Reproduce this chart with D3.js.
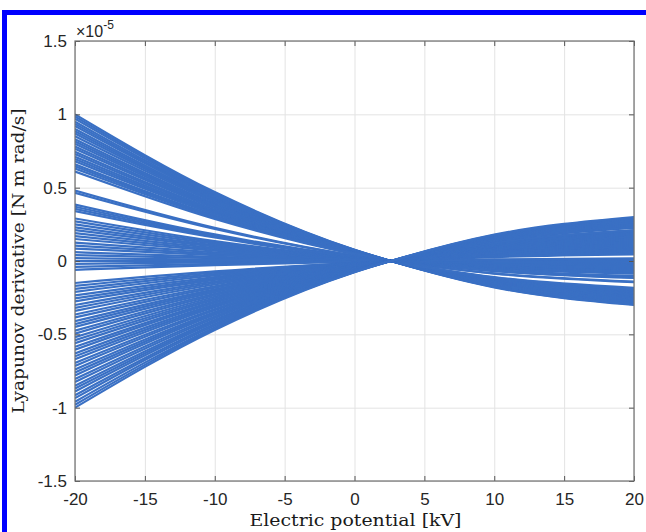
<!DOCTYPE html>
<html>
<head>
<meta charset="utf-8">
<script src="https://cdn.jsdelivr.net/npm/d3@7"></script>
<style>
  body { margin: 0; background: #fff; }
  svg { display: block; }
</style>
</head>
<body>
<div id="chart"></div>
<script>
const xPoints = [-20, -10, 0, 10, 20];
// all curves pass through one common point
const crossX = 2.6, crossValue = 0;

// values (x1e-5) of each curve at the xPoints
const atM20 = [1.00,0.985,0.97,0.95,0.935,0.92,0.90,0.885,0.87,0.85,0.83,0.815,0.80,0.78,0.765,0.745,0.73,0.71,0.695,0.68,0.66,0.645,0.63,0.61,
  0.48,0.465,0.385,0.37,0.355,0.34,0.29,0.27,0.25,0.23,0.21,0.19,0.17,0.15,0.125,0.105,0.085,0.06,0.04,0.02,0,-0.02,-0.04,-0.06,
  -0.15,-0.17,-0.19,-0.21,-0.235,-0.255,-0.275,-0.30,-0.32,-0.34,-0.365,-0.385,-0.41,-0.43,-0.45,-0.475,-0.495,-0.52,-0.54,-0.56,
  -0.585,-0.605,-0.63,-0.65,-0.67,-0.695,-0.715,-0.74,-0.76,-0.78,-0.805,-0.825,-0.85,-0.87,-0.89,-0.915,-0.935,-0.96,-0.98,-1.00];
const atM10 = [.470,.463,.456,.447,.439,.432,.423,.416,.409,.400,.390,.383,.376,.367,.360,.350,.343,.334,.327,.320,.310,.303,.296,.287,
  .226,.219,.181,.174,.167,.160,.136,.127,.118,.108,.099,.089,.080,.071,.059,.049,.040,.028,.019,.009,0,-.009,-.019,-.028,
  -.071,-.080,-.089,-.099,-.110,-.120,-.129,-.141,-.150,-.160,-.172,-.181,-.193,-.202,-.212,-.223,-.233,-.244,-.254,-.263,
  -.275,-.284,-.296,-.306,-.315,-.327,-.336,-.348,-.357,-.367,-.378,-.388,-.400,-.409,-.418,-.430,-.439,-.451,-.461,-.470];
const at0 = [.077,.076,.075,.073,.072,.071,.069,.068,.067,.065,.064,.063,.062,.060,.059,.057,.056,.055,.054,.052,.051,.050,.049,.047,
  .037,.036,.030,.028,.027,.026,.022,.021,.019,.018,.016,.015,.013,.012,.010,.008,.007,.005,.003,.002,0,-.002,-.003,-.005,
  -.012,-.013,-.015,-.016,-.018,-.020,-.021,-.023,-.025,-.026,-.028,-.030,-.032,-.033,-.035,-.037,-.038,-.040,-.042,-.043,
  -.045,-.047,-.049,-.050,-.052,-.054,-.055,-.057,-.059,-.060,-.062,-.064,-.065,-.067,-.069,-.070,-.072,-.074,-.075,-.077];
const at10 = [-.180,-.177,-.175,-.171,-.168,-.166,-.162,-.159,-.157,-.153,-.149,-.147,-.144,-.140,-.138,-.134,-.131,-.128,-.125,-.122,-.119,-.116,-.113,-.110,
  -.086,-.084,-.069,-.067,-.064,-.061,-.052,-.049,-.045,-.041,-.038,-.034,-.031,-.027,-.023,-.019,-.015,-.011,-.007,-.004,0,.004,.007,.011,
  .027,.031,.034,.038,.042,.046,.050,.054,.058,.061,.066,.069,.074,.077,.081,.086,.089,.094,.097,.101,
  .105,.109,.113,.117,.121,.125,.127,.136,.137,.140,.145,.149,.153,.157,.160,.165,.168,.173,.176,.180];
const at20 = [-.300,-.296,-.291,-.285,-.281,-.276,-.270,-.266,-.261,-.255,-.249,-.245,-.240,-.234,-.230,-.224,-.219,-.213,-.209,-.204,-.198,-.194,-.189,-.183,
  -.144,-.140,-.116,-.111,-.107,-.102,-.087,-.081,-.075,-.069,-.063,-.057,-.051,-.045,-.038,-.032,-.026,-.018,-.012,-.006,0,.006,.012,.018,
  .045,.051,.057,.063,.071,.077,.083,.090,.096,.102,.110,.116,.123,.129,.135,.143,.149,.156,.162,.168,
  .176,.182,.189,.195,.201,.207,.210,.226,.230,.234,.242,.248,.255,.261,.267,.275,.281,.288,.294,.300];

const xTicks = [-20, -15, -10, -5, 0, 5, 10, 15, 20];
const yTicks = [-1.5, -1, -0.5, 0, 0.5, 1, 1.5];

const W = 646, H = 532;
const margin = {top: 41, right: 12, bottom: 51, left: 75},
      width = W - margin.left - margin.right,
      height = H - margin.top - margin.bottom;

const root = d3.select("#chart").append("svg")
    .attr("width", W)
    .attr("height", H);

// blue frame around the figure
root.append("rect").attr("x", 2).attr("y", 10).attr("width", W - 2).attr("height", 5).attr("fill", "#0000ff");
root.append("rect").attr("x", 2).attr("y", 10).attr("width", 5).attr("height", H - 10).attr("fill", "#0000ff");

const svg = root.append("g")
    .attr("transform", `translate(${margin.left},${margin.top})`);

const x = d3.scaleLinear().domain([-20, 20]).range([0, width]);
const y = d3.scaleLinear().domain([-1.5, 1.5]).range([height, 0]);

// grid
svg.append("g")
    .attr("transform", `translate(0,${height})`)
    .call(d3.axisBottom(x).tickValues(xTicks).tickSize(-height).tickFormat(""))
    .call(g => g.select(".domain").remove())
    .call(g => g.selectAll("line").attr("stroke", "#e3e3e3"));
svg.append("g")
    .call(d3.axisLeft(y).tickValues(yTicks).tickSize(-width).tickFormat(""))
    .call(g => g.select(".domain").remove())
    .call(g => g.selectAll("line").attr("stroke", "#e3e3e3"));

svg.append("clipPath").attr("id", "clip")
  .append("rect").attr("width", width).attr("height", height);

const curves = atM20.map((v, i) => {
    const vals = [v, atM10[i], at0[i], at10[i], at20[i]];
    const pts = xPoints.map((px, j) => [px, vals[j]]);
    pts.splice(3, 0, [crossX, crossValue]);
    return pts;
});

const line = d3.line()
    .x(d => x(d[0]))
    .y(d => y(d[1]))
    .curve(d3.curveMonotoneX);

svg.append("g")
    .attr("clip-path", "url(#clip)")
  .selectAll("path")
  .data(curves)
  .join("path")
    .attr("fill", "none")
    .attr("stroke", "#3a70c4")
    .attr("stroke-width", 2.2)
    .attr("d", line);

// axes (inward ticks on all four sides)
const styleAxis = g => {
    g.select(".domain").remove();
    g.selectAll("line").attr("stroke", "#555");
    g.selectAll("text")
        .attr("fill", "#262626")
        .style("font-family", "'Liberation Sans', Arial, sans-serif")
        .style("font-size", "17px");
};

svg.append("g")
    .attr("transform", `translate(0,${height})`)
    .call(d3.axisBottom(x).tickValues(xTicks).tickSizeInner(-5).tickSizeOuter(0).tickPadding(12).tickFormat(d => String(d)))
    .call(styleAxis);
svg.append("g")
    .call(d3.axisTop(x).tickValues(xTicks).tickSizeInner(-5).tickSizeOuter(0).tickFormat(""))
    .call(styleAxis);
svg.append("g")
    .call(d3.axisLeft(y).tickValues(yTicks).tickSizeInner(-5).tickSizeOuter(0).tickPadding(8).tickFormat(d => String(d)))
    .call(styleAxis);
svg.append("g")
    .attr("transform", `translate(${width},0)`)
    .call(d3.axisRight(y).tickValues(yTicks).tickSizeInner(-5).tickSizeOuter(0).tickFormat(""))
    .call(styleAxis);

svg.append("rect")
    .attr("width", width)
    .attr("height", height)
    .attr("fill", "none")
    .attr("stroke", "#6e6e6e")
    .attr("stroke-width", 1.2);

// exponent note
const expo = svg.append("text")
    .attr("x", 1)
    .attr("y", -4)
    .attr("fill", "#262626")
    .style("font-family", "'Liberation Sans', Arial, sans-serif")
    .style("font-size", "16px");
expo.append("tspan").text("\u00d710");
expo.append("tspan").attr("dy", -8).style("font-size", "12px").text("-5");

// axis titles
svg.append("text")
    .attr("x", width / 2 + 1)
    .attr("y", height + 45)
    .attr("text-anchor", "middle")
    .attr("fill", "#1a1a1a")
    .attr("textLength", 212)
    .attr("lengthAdjust", "spacingAndGlyphs")
    .style("font-family", "'DejaVu Serif', serif")
    .style("font-size", "16px")
    .text("Electric potential [kV]");

svg.append("text")
    .attr("transform", `translate(${18 - margin.left},${height / 2}) rotate(-90)`)
    .attr("text-anchor", "middle")
    .attr("dominant-baseline", "central")
    .attr("fill", "#1a1a1a")
    .attr("textLength", 305)
    .attr("lengthAdjust", "spacingAndGlyphs")
    .style("font-family", "'DejaVu Serif', serif")
    .style("font-size", "17px")
    .text("Lyapunov derivative [N m rad/s]");
</script>
</body>
</html>
